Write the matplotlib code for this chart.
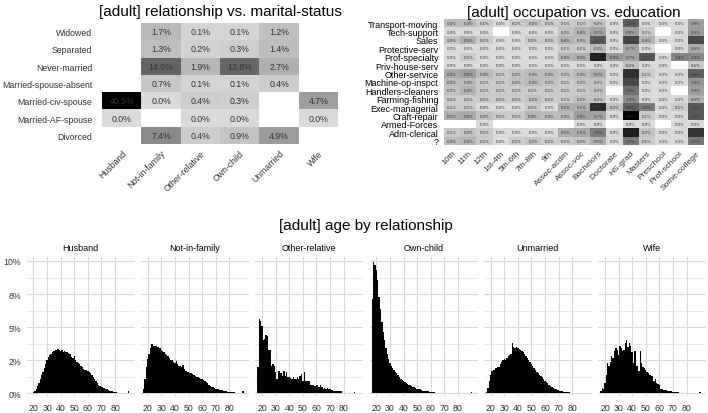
import numpy as np
import matplotlib.pyplot as plt
from matplotlib.colors import LinearSegmentedColormap, PowerNorm

plt.rcParams['font.family'] = ['Liberation Sans', 'DejaVu Sans']

nan = np.nan

# relationship vs marital-status (percent of all rows)
relationship = ["Husband", "Not-in-family", "Other-relative", "Own-child", "Unmarried", "Wife"]
marital = ["Widowed", "Separated", "Never-married", "Married-spouse-absent",
           "Married-civ-spouse", "Married-AF-spouse", "Divorced"]
rel_marital = [
    [nan, 1.7, 0.1, 0.1, 1.2, nan],
    [nan, 1.3, 0.2, 0.3, 1.4, nan],
    [nan, 14.6, 1.9, 13.8, 2.7, nan],
    [nan, 0.7, 0.1, 0.1, 0.4, nan],
    [40.5, 0.0, 0.4, 0.3, nan, 4.7],
    [0.0, nan, 0.0, 0.0, nan, 0.0],
    [nan, 7.4, 0.4, 0.9, 4.9, nan],
]

# occupation vs education
education = ["10th", "11th", "12th", "1st-4th", "5th-6th", "7th-8th", "9th", "Assoc-acdm",
             "Assoc-voc", "Bachelors", "Doctorate", "HS-grad", "Masters", "Preschool",
             "Prof-school", "Some-college"]
occupation = ["Transport-moving", "Tech-support", "Sales", "Protective-serv", "Prof-specialty",
              "Priv-house-serv", "Other-service", "Machine-op-inspct", "Handlers-cleaners",
              "Farming-fishing", "Exec-managerial", "Craft-repair", "Armed-Forces",
              "Adm-clerical", "?"]
occ_edu = [
    [0.3, 0.3, 0.1, 0.0, 0.1, 0.2, 0.1, 0.1, 0.1, 0.2, 0.0, 2.5, 0.0, 0.0, 0.0, 0.8],
    [0.0, 0.0, 0.0, nan, 0.0, 0.0, 0.0, 0.2, 0.4, 0.7, 0.0, 0.8, 0.1, nan, 0.0, 0.9],
    [0.2, 0.5, 0.1, 0.0, 0.0, 0.1, 0.1, 0.4, 0.3, 2.6, 0.0, 3.2, 0.4, 0.0, 0.0, 3.1],
    [0.0, 0.0, 0.0, 0.0, 0.0, 0.0, 0.0, 0.1, 0.1, 0.3, 0.0, 0.7, 0.0, nan, 0.0, 0.6],
    [0.0, 0.1, 0.0, 0.0, 0.0, 0.0, 0.0, 0.4, 0.5, 4.6, 0.9, 0.7, 2.7, 0.0, 1.4, 1.3],
    [0.0, 0.0, 0.0, 0.0, 0.0, 0.0, 0.0, 0.0, 0.0, 0.0, 0.0, 0.2, 0.0, 0.0, nan, 0.1],
    [0.6, 0.8, 0.3, 0.1, 0.2, 0.3, 0.3, 0.2, 0.3, 0.5, 0.0, 4.0, 0.1, 0.0, 0.0, 2.4],
    [0.3, 0.3, 0.1, 0.1, 0.2, 0.3, 0.2, 0.1, 0.2, 0.2, 0.0, 3.1, 0.0, 0.0, 0.0, 1.0],
    [0.2, 0.4, 0.1, 0.1, 0.1, 0.1, 0.1, 0.1, 0.1, 0.2, nan, 1.9, 0.0, 0.0, nan, 0.8],
    [0.1, 0.1, 0.1, 0.1, 0.1, 0.2, 0.1, 0.1, 0.2, 0.2, 0.0, 1.2, 0.0, 0.0, 0.0, 0.5],
    [0.1, 0.1, 0.0, 0.0, 0.0, 0.1, 0.0, 0.5, 0.5, 4.1, 0.2, 2.4, 1.6, 0.0, 0.1, 2.6],
    [0.5, 0.6, 0.2, 0.1, 0.1, 0.4, 0.3, 0.3, 0.8, 0.7, 0.0, 5.9, 0.1, 0.0, 0.0, 2.6],
    [nan, nan, 0.0, nan, nan, nan, nan, nan, 0.0, 0.0, nan, 0.0, 0.0, nan, 0.0, 0.0],
    [0.1, 0.2, 0.1, 0.0, 0.0, 0.0, 0.0, 0.5, 0.6, 1.6, 0.0, 4.7, 0.2, 0.0, 0.0, 3.8],
    [0.3, 0.4, 0.1, 0.0, 0.1, 0.2, 0.1, 0.1, 0.2, 0.5, 0.0, 1.7, 0.1, 0.0, 0.0, 1.7],
]

# age distribution (% within relationship), ages 17..90
ages = list(range(17, 91))
age_husband = [
    0.0, 0.02, 0.05, 0.1, 0.2, 0.35, 0.55, 0.8, 1.05, 1.35,
    1.65, 1.95, 2.25, 2.5, 2.75, 2.9, 3.0, 3.1, 3.2, 3.3,
    3.25, 3.35, 3.3, 3.2, 3.3, 3.15, 3.2, 3.1, 3.15, 3.05,
    3.0, 2.75, 2.7, 2.8, 2.55, 2.4, 2.3, 2.2, 2.1, 2.0,
    1.85, 1.8, 1.75, 1.7, 1.6, 1.5, 1.35, 1.2, 1.05, 0.9,
    0.8, 0.65, 0.55, 0.5, 0.45, 0.4, 0.35, 0.3, 0.25, 0.2,
    0.2, 0.15, 0.12, 0.1, 0.08, 0.06, 0.05, 0.04, 0.03, 0.02,
    0.02, 0.01, 0.0, 0.15]
age_notinfamily = [
    0.3, 1.1, 2.0, 2.6, 3.0, 3.4, 3.7, 3.6, 3.6, 3.55,
    3.5, 3.5, 3.4, 3.3, 3.2, 3.1, 3.0, 2.9, 2.8, 2.65,
    2.55, 2.5, 2.4, 2.3, 2.45, 2.2, 2.1, 2.05, 2.0, 2.15,
    1.85, 1.7, 1.65, 1.6, 1.55, 1.5, 1.45, 1.4, 1.3, 1.25,
    1.2, 1.15, 1.1, 1.05, 1.0, 0.95, 0.85, 0.75, 0.65, 0.55,
    0.5, 0.45, 0.4, 0.35, 0.3, 0.3, 0.28, 0.25, 0.22, 0.2,
    0.18, 0.15, 0.13, 0.12, 0.1, 0.1, 0.08, 0.07, 0.06, 0.05,
    0.04, 0.03, 0.03, 0.15]
age_otherrel = [
    2.0, 5.6, 5.5, 5.1, 4.0, 4.1, 4.4, 4.35, 3.3, 3.3,
    2.1, 2.2, 2.1, 1.6, 1.1, 1.7, 1.7, 1.5, 1.3, 1.7,
    1.3, 1.6, 1.2, 1.2, 1.15, 1.1, 1.2, 1.05, 1.1, 1.25,
    1.1, 1.3, 1.45, 0.95, 1.6, 0.95, 0.9, 0.95, 0.95, 0.6,
    0.65, 0.6, 0.55, 0.65, 0.6, 0.5, 0.6, 0.45, 0.35, 0.4,
    0.35, 0.4, 0.3, 0.3, 0.25, 0.25, 0.2, 0.2, 0.2, 0.15,
    0.2, 0.15, 0.0, 0.0, 0.0, 0.0, 0.0, 0.0, 0.0, 0.0,
    0.0, 0.1, 0.0, 0.0]
age_ownchild = [
    7.1, 9.9, 9.7, 9.3, 8.6, 7.3, 6.4, 5.4, 4.6, 4.0,
    3.4, 3.0, 2.6, 2.3, 2.1, 1.9, 1.8, 1.6, 1.5, 1.4,
    1.2, 1.1, 1.0, 0.95, 0.85, 0.8, 0.7, 0.65, 0.6, 0.55,
    0.5, 0.45, 0.4, 0.35, 0.3, 0.3, 0.25, 0.2, 0.2, 0.18,
    0.15, 0.15, 0.12, 0.12, 0.1, 0.1, 0.08, 0.05, 0.05, 0.04,
    0.03, 0.03, 0.02, 0.02, 0.0, 0.02, 0.0, 0.0, 0.0, 0.0,
    0.0, 0.0, 0.0, 0.0, 0.0, 0.0, 0.0, 0.0, 0.0, 0.0,
    0.0, 0.0, 0.0, 0.12]
age_unmarried = [
    0.1, 0.4, 0.9, 1.4, 1.7, 1.8, 1.8, 1.9, 2.0, 2.0,
    2.2, 2.4, 2.5, 2.6, 2.5, 2.7, 2.8, 2.9, 3.0, 3.8,
    3.5, 3.4, 3.5, 3.4, 3.35, 3.3, 3.2, 3.1, 2.95, 2.8,
    2.7, 2.55, 2.4, 2.25, 2.1, 1.95, 1.8, 1.65, 1.5, 1.4,
    1.3, 1.2, 1.1, 0.95, 0.85, 0.75, 0.65, 0.55, 0.45, 0.38,
    0.33, 0.3, 0.28, 0.25, 0.2, 0.17, 0.15, 0.13, 0.12, 0.1,
    0.08, 0.07, 0.06, 0.06, 0.05, 0.05, 0.04, 0.04, 0.03, 0.03,
    0.03, 0.05, 0.02, 0.05]
age_wife = [
    0.2, 0.4, 0.35, 0.8, 1.4, 2.3, 2.1, 2.4, 2.8, 2.7,
    3.2, 3.4, 3.3, 2.9, 3.6, 3.4, 3.2, 3.3, 3.8, 4.0,
    3.5, 3.8, 3.6, 3.1, 2.3, 3.2, 2.1, 2.1, 1.7, 3.2,
    2.3, 2.0, 1.9, 1.8, 1.6, 1.5, 1.35, 1.3, 1.3, 0.95,
    1.1, 0.8, 0.7, 0.6, 0.3, 0.3, 0.28, 0.25, 0.25, 0.2,
    0.2, 0.15, 0.15, 0.12, 0.12, 0.1, 0.1, 0.08, 0.06, 0.06,
    0.05, 0.04, 0.04, 0.03, 0.0, 0.0, 0.0, 0.0, 0.0, 0.0,
    0.0, 0.0, 0.0, 0.12]
age_panels = [age_husband, age_notinfamily, age_otherrel, age_ownchild, age_unmarried, age_wife]

W, H = 708, 414
fig = plt.figure(figsize=(W / 100, H / 100), dpi=100)

def box(x0, y0, x1, y1):
    # pixel box (top-left origin) -> figure fraction rect
    return [x0 / W, 1 - y1 / H, (x1 - x0) / W, (y1 - y0) / H]

cmap = LinearSegmentedColormap.from_list("grey", ["#dadada", "#000000"])
cmap.set_bad("white")


def heatmap(ax, data, rows, cols, gamma, row_fs, col_fs, cell_fs, row_color, ypad, title, tpad):
    arr = np.ma.masked_invalid(np.array(data, dtype=float))
    ax.imshow(arr, cmap=cmap, norm=PowerNorm(gamma, vmin=0, vmax=np.nanmax(data)),
              aspect='auto', interpolation='nearest')
    for i in range(len(rows)):
        for j in range(len(cols)):
            v = data[i][j]
            if not np.isnan(v):
                ax.text(j, i, f"{v:.1f}%", ha='center', va='center',
                        fontsize=cell_fs, color='#333333')
    ax.set_yticks(range(len(rows)))
    ax.set_yticklabels(rows, fontsize=row_fs, color=row_color)
    ax.set_xticks(range(len(cols)))
    ax.set_xticklabels(cols, fontsize=col_fs, color='#333333', rotation=45,
                       ha='right', rotation_mode='anchor')
    ax.tick_params(axis='y', length=0, pad=ypad)
    ax.tick_params(axis='x', length=0, pad=3)
    for s in ax.spines.values():
        s.set_visible(False)
    ax.set_title(title, fontsize=11, pad=tpad)


ax1 = fig.add_axes(box(102, 24, 338, 145))
heatmap(ax1, rel_marital, marital, relationship, 0.6, 6.3, 6.3, 6.3, '#333333', 7,
        "[adult] relationship vs. marital-status", 6)

ax2 = fig.add_axes(box(444, 20, 704, 146))
heatmap(ax2, occ_edu, occupation, education, 0.65, 6.5, 6.0, 3.2, 'black', 4,
        "[adult] occupation vs. education", 2)

# age histograms by relationship
fig.text(366 / W, 1 - 226 / H, "[adult] age by relationship", fontsize=11,
         ha='center', va='center')
for k, (name, vals) in enumerate(zip(relationship, age_panels)):
    x0 = 26.7 + k * 114.3
    ax = fig.add_axes(box(x0, 258, x0 + 108, 397))
    ax.bar(ages, vals, width=1.0, color='black', linewidth=0)
    ax.set_xlim(15, 94.5)
    ax.set_ylim(-0.2, 10.3)
    ax.set_xticks(range(20, 81, 10))
    ax.set_yticks([0, 2.5, 5, 7.5, 10])
    ax.set_yticks([1.25, 3.75, 6.25, 8.75], minor=True)
    ax.set_yticklabels(["0%", "2%", "5%", "8%", "10%"])
    ax.grid(True, which='major', color='#d9d9d9', linewidth=0.8)
    ax.grid(True, which='minor', axis='y', color='#e6e6e6', linewidth=0.6)
    ax.set_axisbelow(True)
    ax.tick_params(which='both', length=0, labelsize=6.3, colors='#333333')
    ax.tick_params(axis='x', pad=5)
    ax.tick_params(axis='y', pad=4)
    if k > 0:
        ax.tick_params(labelleft=False)
    for s in ax.spines.values():
        s.set_visible(False)
    ax.set_title(name, fontsize=6.5, pad=5)

fig.savefig("out.png", dpi=100)
